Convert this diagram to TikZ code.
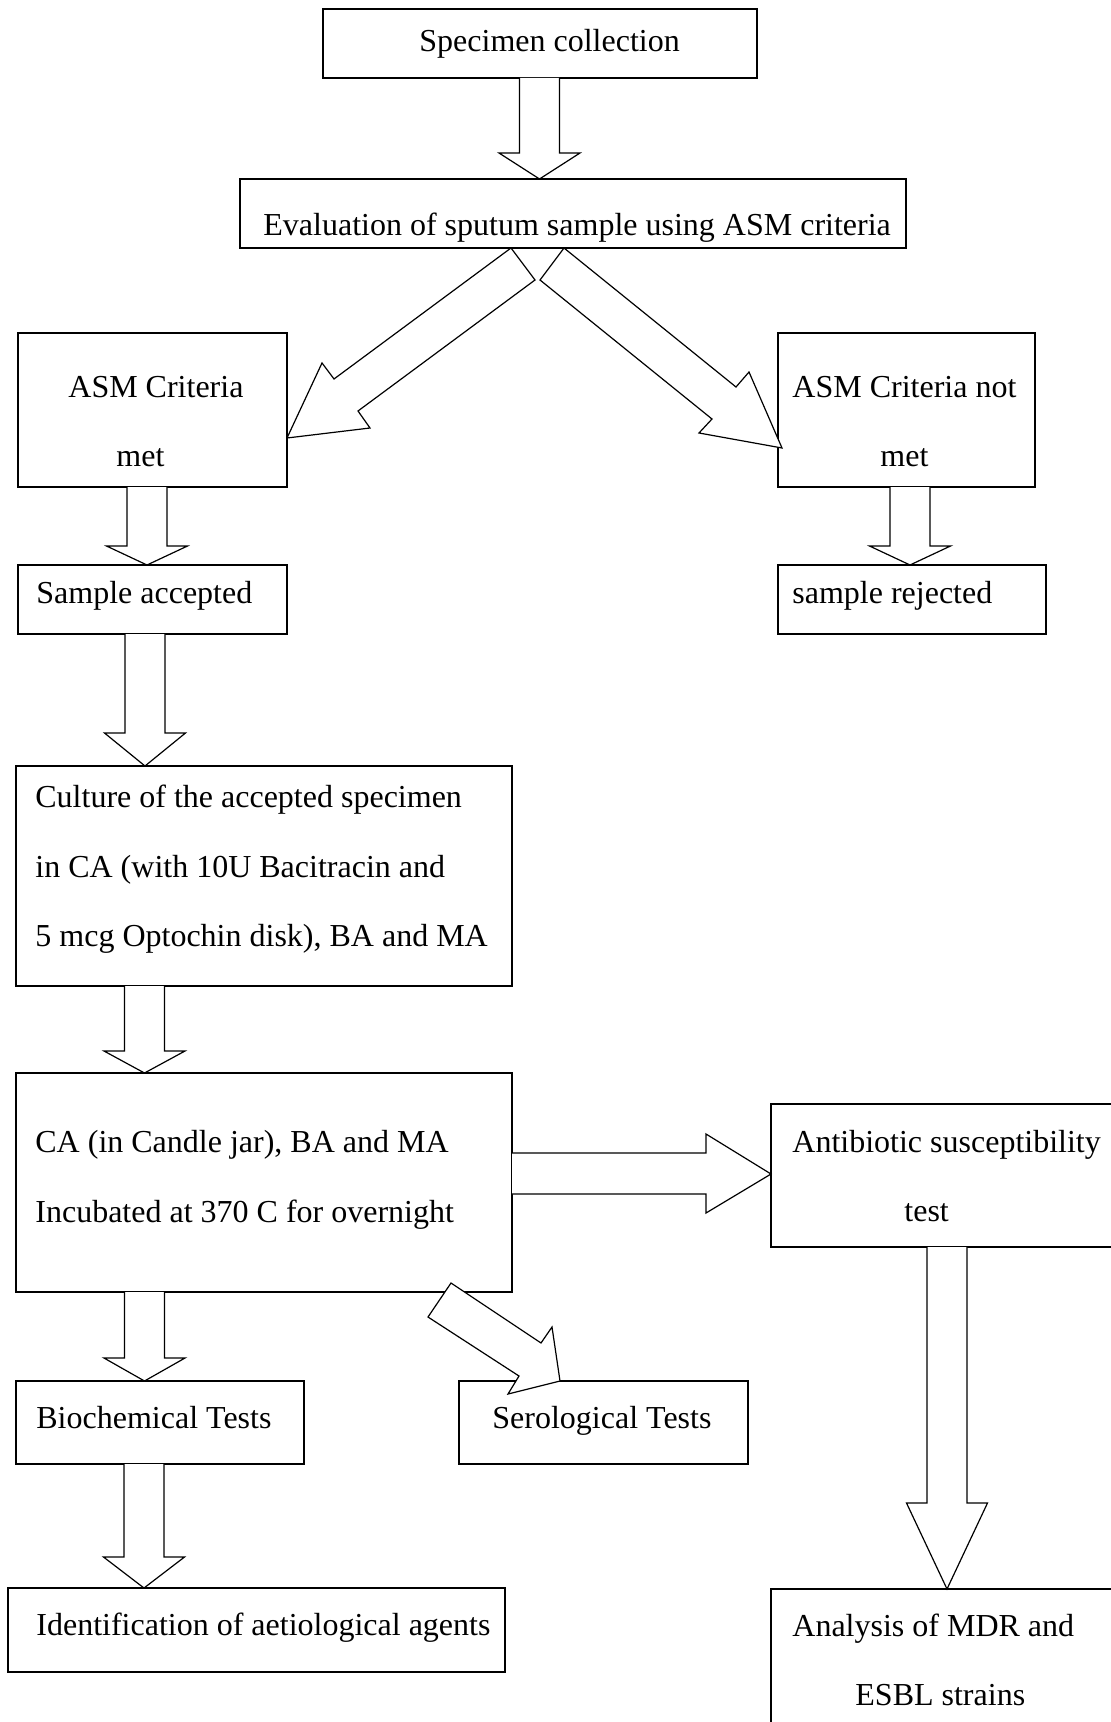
\documentclass[tikz,border=0pt]{standalone}
\usepackage{fontspec}
\setmainfont{Liberation Serif}
\usetikzlibrary{calc}
\newcommand\bx[5]{\node[box, minimum width={(#4-#2)*0.5pt}, minimum height={(#5-#3)*0.5pt}] (#1) at (#2,#3) {};}
\newcommand\vblk[4]{%
  \draw[blk] (#3-20,0 |- #1.south) -- (#3-20,#4) -- (#3-40.5,#4) -- (#3,0 |- #2.north) -- (#3+40.5,#4) -- (#3+20,#4) -- (#3+20,0 |- #1.south);}
\begin{document}
\begin{tikzpicture}[x=0.5pt,y=-0.5pt,
  box/.style={draw, line width=0.8pt, inner sep=0pt, outer sep=0pt, anchor=north west},
  blk/.style={draw, fill=white, line width=0.6pt, line join=miter},
  txt/.style={inner sep=0pt, anchor=base west, font=\fontsize{16pt}{19pt}\selectfont}]
\useasboundingbox (0,0) rectangle (1111,1722);
\fill[white] (0,0) rectangle (1111,1722);
\clip (0,0) rectangle (1111,1722);

% boxes
\bx{spec}{323}{9}{757}{78}
\bx{eval}{240}{179}{906}{248}
\bx{met}{18}{333}{287}{487}
\bx{notmet}{778}{333}{1035}{487}
\bx{acc}{18}{565}{287}{634}
\bx{rej}{778}{565}{1046}{634}
\bx{cult}{16}{766}{512}{986}
\bx{ca}{16}{1073}{512}{1292}
\bx{ab}{771}{1104}{1130}{1247}
\bx{bio}{16}{1381}{304}{1464}
\bx{sero}{459}{1381}{748}{1464}
\bx{ident}{8}{1588}{505}{1672}
\bx{ana}{771}{1589}{1130}{1740}

% texts
\node[txt] (t-spec) at (419,52) {Specimen collection};
\node[txt] (t-eval) at (263,236) {Evaluation of sputum sample using ASM criteria};
\node[txt] (t-met1) at (68,397) {ASM Criteria};
\node[txt] (t-met2) at (116,466) {met};
\node[txt] (t-nm1) at (792,397) {ASM Criteria not};
\node[txt] (t-nm2) at (880,466) {met};
\node[txt] (t-acc) at (36,603) {Sample accepted};
\node[txt] (t-rej) at (792,603) {sample rejected};
\node[txt] (t-c1) at (35,807) {Culture of the accepted specimen};
\node[txt] (t-c2) at (35,877) {in CA (with 10U Bacitracin and};
\node[txt] (t-c3) at (35,946) {5 mcg Optochin disk), BA and MA};
\node[txt] (t-ca1) at (35,1152) {CA (in Candle jar), BA and MA};
\node[txt] (t-ca2) at (35,1222) {Incubated at 370 C for overnight};
\node[txt] (t-ab1) at (792,1152) {Antibiotic susceptibility};
\node[txt] (t-ab2) at (904,1221) {test};
\node[txt] (t-bio) at (36,1428) {Biochemical Tests};
\node[txt] (t-sero) at (492,1428) {Serological Tests};
\node[txt] (t-id) at (36,1635) {Identification of aetiological agents};
\node[txt] (t-an1) at (792,1636) {Analysis of MDR and};
\node[txt] (t-an2) at (855,1705) {ESBL strains};

% vertical block arrows
\vblk{spec}{eval}{539.5}{153}
\vblk{met}{acc}{147}{546}
\vblk{notmet}{rej}{910}{546}
\vblk{acc}{cult}{145}{733}
\vblk{cult}{ca}{144.5}{1051}
\vblk{ca}{bio}{144.5}{1358}
\vblk{bio}{ident}{144}{1557}
\vblk{ab}{ana}{947}{1503}

% horizontal block arrow
\draw[blk] (ca.east |- 0,1153) -- (706,1153) -- (706,1134) -- (ab.west |- 0,1174)
  -- (706,1213) -- (706,1194) -- (ca.east |- 0,1194);

% diagonal block arrows
\draw[blk] (511,0 |- eval.south) -- (334,379) -- (322,363) -- (met.east |- 0,438)
  -- (370,428) -- (358,411) -- (535,280) -- cycle;
\draw[blk] (564,0 |- eval.south) -- (736,387) -- (749,372) -- (782,448)
  -- (699,433) -- (712,419) -- (540,280) -- cycle;
\draw[blk] (451,1283) -- (541,1343) -- (552,1327) -- (560,0 |- sero.north)
  -- (508,1394) -- (519,1376) -- (428,1317) -- cycle;
\end{tikzpicture}
\end{document}
